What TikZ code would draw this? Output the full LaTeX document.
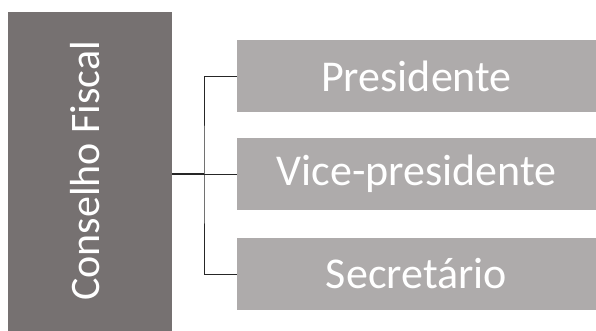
\documentclass[tikz,border=0pt]{standalone}
\usepackage{fontspec}
\setmainfont{Carlito}
\definecolor{darkbox}{HTML}{767171}
\definecolor{lightbox}{HTML}{AEABAB}
\tikzset{
  headbox/.style={fill=darkbox, minimum width=164pt, minimum height=319pt, inner sep=0pt},
  rolebox/.style={fill=lightbox, text=white, minimum width=359pt, minimum height=72pt, inner sep=0pt, font=\fontsize{44}{46}\selectfont},
}
\begin{document}
\begin{tikzpicture}[x=1pt,y=1pt]
      \useasboundingbox (0,0) rectangle (596,331);
      \node[headbox] (conselho) at (90,159.5) {};
      \node[white, rotate=90, font=\fontsize{42}{44}\selectfont] (titulo) at (85,160) {Conselho Fiscal};
      \node[rolebox] (pres) at (416.5,255) {Presidente};
      \node[rolebox] (vice) at (416.5,157) {Vice-presidente};
      \node[rolebox] (secr) at (416.5,57) {Secretário};
      \coordinate (bus) at (204,157);
      \begin{scope}[-, black!85]
        \draw[line width=1.6pt] (conselho.east |- bus) to (bus);
        \draw[line width=0.9pt] (pres.west) -| (bus) |- (secr.west);
        \draw[line width=0.9pt] (bus) to (vice.west);
      \end{scope}
    \end{tikzpicture}
\end{document}
